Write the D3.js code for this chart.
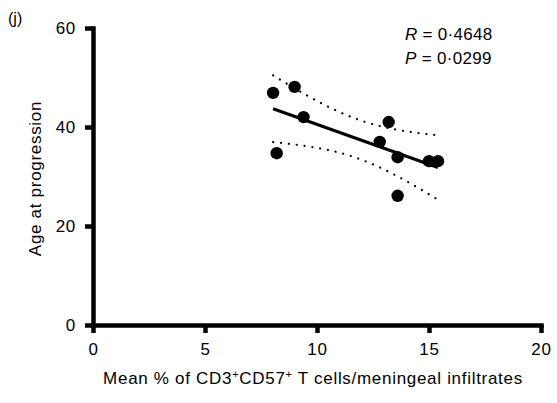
<!DOCTYPE html>
<html>
<head>
<meta charset="utf-8">
<script src="https://cdn.jsdelivr.net/npm/d3@7"></script>
<style>
  body { margin: 0; background: #fff; }
  svg { font-family: "Liberation Sans", Arial, sans-serif; }
</style>
</head>
<body>
<div id="chart"></div>
<script>
// Scatter of age at progression vs mean % CD3+CD57+ T cells, with linear fit and 95% CI band

const width = 557;
const height = 403;

// Data
const cd57Pct = [8.04, 8.2, 9.0, 9.4, 13.2, 12.8, 13.6, 13.6, 15.0, 15.4];
const ageAtProgression = [46.9, 34.7, 48.1, 42.0, 41.0, 37.0, 33.9, 26.1, 33.1, 33.1];

const xTicks = [0, 5, 10, 15, 20];
const yTicks = [0, 20, 40, 60];
const statsLines = [
    { label: 'R', value: '0·4648' },
    { label: 'P', value: '0·0299' }
];

const margin = { top: 28, right: 16, bottom: 78, left: 93 };
const fontSize = '17px';
const spacing = '0.7px';

const x = d3.scaleLinear().domain([0, 20]).range([margin.left, width - margin.right]);
const y = d3.scaleLinear().domain([0, 60]).range([height - margin.bottom, margin.top]);

const svg = d3.select('#chart')
    .append('svg')
    .attr('width', width)
    .attr('height', height);

// Linear regression + 95% confidence band for the mean
const points = cd57Pct.map((v, i) => ({ x: v, y: ageAtProgression[i] }));
const n = points.length;
const mx = d3.mean(points, d => d.x);
const my = d3.mean(points, d => d.y);
const sxx = d3.sum(points, d => (d.x - mx) ** 2);
const sxy = d3.sum(points, d => (d.x - mx) * (d.y - my));
const slope = sxy / sxx;
const intercept = my - slope * mx;
const sse = d3.sum(points, d => (d.y - (intercept + slope * d.x)) ** 2);
const s = Math.sqrt(sse / (n - 2));
const tCrit = 2.306; // t(0.975, df = 8)

const [xMin, xMax] = d3.extent(cd57Pct);
const band = d3.range(0, 41).map(i => {
    const xv = xMin + (xMax - xMin) * i / 40;
    const fit = intercept + slope * xv;
    const half = tCrit * s * Math.sqrt(1 / n + (xv - mx) ** 2 / sxx);
    return { x: xv, lo: fit - half, hi: fit + half };
});

const bandLine = key => d3.line().x(d => x(d.x)).y(d => y(d[key]));

['hi', 'lo'].forEach(key => {
    svg.append('path')
        .datum(band)
        .attr('d', bandLine(key))
        .attr('fill', 'none')
        .attr('stroke', '#000')
        .attr('stroke-width', 2.2)
        .attr('stroke-linecap', 'round')
        .attr('stroke-dasharray', '0.1,7.8');
});

svg.append('line')
    .attr('x1', x(xMin))
    .attr('y1', y(intercept + slope * xMin))
    .attr('x2', x(xMax))
    .attr('y2', y(intercept + slope * xMax))
    .attr('stroke', '#000')
    .attr('stroke-width', 3);

// Points
svg.selectAll('.dot')
    .data(points)
    .enter()
    .append('circle')
    .attr('class', 'dot')
    .attr('cx', d => x(d.x))
    .attr('cy', d => y(d.y))
    .attr('r', 6.2)
    .attr('fill', '#000');

// Axes
const axisWidth = 4.5;

const xAxis = svg.append('g')
    .attr('transform', `translate(0,${y(0)})`)
    .call(d3.axisBottom(x).tickValues(xTicks).tickSize(8).tickSizeOuter(0).tickPadding(10));

const yAxis = svg.append('g')
    .attr('transform', `translate(${x(0)},0)`)
    .call(d3.axisLeft(y).tickValues(yTicks).tickSize(8).tickSizeOuter(0).tickPadding(9));

[xAxis, yAxis].forEach(g => {
    g.select('.domain').attr('stroke', '#000').attr('stroke-width', axisWidth).attr('stroke-linecap', 'square');
    g.selectAll('.tick line').attr('stroke', '#000').attr('stroke-width', axisWidth);
    g.selectAll('.tick text')
        .attr('fill', '#000')
        .style('font-size', fontSize)
        .style('letter-spacing', spacing)
        .style('font-family', '"Liberation Sans", Arial, sans-serif');
});

// Axis titles
const xTitle = svg.append('text')
    .attr('x', 313)
    .attr('y', 384)
    .attr('text-anchor', 'middle')
    .style('font-size', fontSize)
    .style('letter-spacing', spacing)
    .attr('fill', '#000');
xTitle.append('tspan').text('Mean % of CD3');
xTitle.append('tspan').text('+').attr('font-size', '11px').attr('dy', -6);
xTitle.append('tspan').text('CD57').attr('dy', 6);
xTitle.append('tspan').text('+').attr('font-size', '11px').attr('dy', -6);
xTitle.append('tspan').text(' T cells/meningeal infiltrates').attr('dy', 6);

svg.append('text')
    .attr('transform', `translate(41,${(y(0) + y(60)) / 2 + 2}) rotate(-90)`)
    .attr('text-anchor', 'middle')
    .style('font-size', fontSize)
    .style('letter-spacing', spacing)
    .attr('fill', '#000')
    .text('Age at progression');

// Panel label
svg.append('text')
    .attr('x', 8)
    .attr('y', 24)
    .style('font-size', '16px')
    .attr('fill', '#000')
    .text('(j)');

// Statistics annotation
statsLines.forEach((d, i) => {
    const t = svg.append('text')
        .attr('x', 405)
        .attr('y', 40 + i * 24)
        .style('font-size', fontSize)
        .style('letter-spacing', '0.3px')
        .attr('fill', '#000');
    t.append('tspan').attr('font-style', 'italic').text(d.label);
    t.append('tspan').text(' = ' + d.value);
});
</script>
</body>
</html>
